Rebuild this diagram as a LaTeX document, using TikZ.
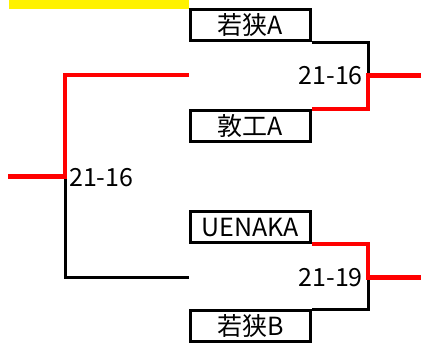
\documentclass[tikz,border=0pt]{standalone}
\usepackage{fontspec}
\setmainfont{Noto Sans CJK JP}
\usetikzlibrary{calc}

\begin{document}
\begin{tikzpicture}[x=1pt,y=-1pt,
        team/.style={draw,line width=3pt,minimum width=120.5pt,minimum height=31pt,inner sep=0pt,font=\fontsize{25}{25}\selectfont},
        score/.style={inner sep=2pt,font=\fontsize{25}{25}\selectfont},
        lose/.style={line width=3pt,draw=black},
        win/.style={line width=4.5pt,draw=red}]
        \useasboundingbox (0,0) rectangle (421,345);
        \fill[yellow] (9,0) rectangle (188.5,8.7);
        \node[team] (wakasaA) at (250.3,25.2) {若狭A};
        \node[team] (tonkoA) at (250.3,126) {敦工A};
        \node[team] (uenaka) at (250.3,227) {UENAKA};
        \node[team] (wakasaB) at (250.3,326) {若狭B};
        \draw (368,75.5) coordinate (j1);
        \draw (368,277.5) coordinate (j2);
        \draw (65,176.3) coordinate (j0);
        \draw (188.7,75) coordinate (t1);
        \draw (188.7,277) coordinate (t2);
        \draw (421,75.5) coordinate (o1);
        \draw (421,277.5) coordinate (o2);
        \draw (8,176.3) coordinate (o0);
        \draw[lose] (wakasaA.south east)-|(j1);
        \draw[lose] (wakasaB.north east)-|(j2);
        \draw[lose] (j0)|-(t2);
        \draw[win] (tonkoA.north east)-|(j1)--(o1);
        \draw[win] (uenaka.south east)-|(j2)--(o2);
        \draw[win] (t1)-|(j0)--(o0);
        \node[score,anchor=east] (s1) at ([xshift=-3pt]j1) {21-16};
        \node[score,anchor=east] (s2) at ([xshift=-3pt]j2) {21-19};
        \node[score,anchor=west] (s0) at ([xshift=2pt,yshift=-1pt]j0) {21-16};
    \end{tikzpicture}
\end{document}
